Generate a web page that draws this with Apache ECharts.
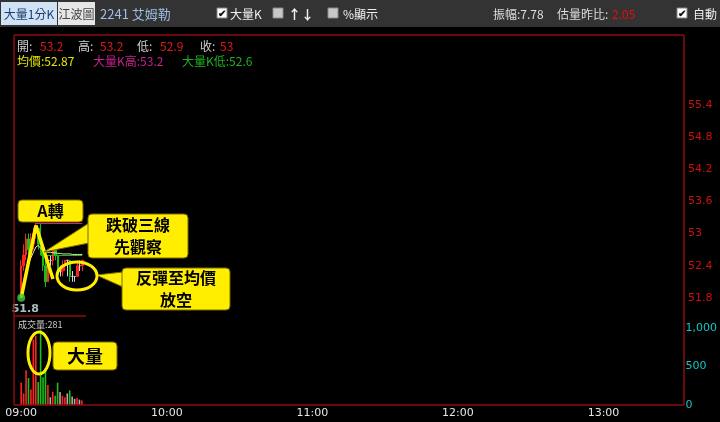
<!DOCTYPE html>
<html>
<head>
<meta charset="utf-8">
<script src="https://cdn.jsdelivr.net/npm/echarts@6/dist/echarts.min.js"></script>
<style>
html, body { margin: 0; padding: 0; background: #000; }
#chart { width: 720px; height: 422px; }
</style>
</head>
<body>
<div id="chart"></div>
<script>
// 時間軸 09:00 ~ 13:30（1 分 K）
var timeLabels = [];
for (var m = 9 * 60; m <= 13 * 60 + 30; m++) {
  var hh = Math.floor(m / 60), mm = m % 60;
  timeLabels.push((hh < 10 ? '0' : '') + hh + ':' + (mm < 10 ? '0' : '') + mm);
}
var hourLabels = ['09:00', '10:00', '11:00', '12:00', '13:00'];
var priceTicks = [51.8, 52.4, 53, 53.6, 54.2, 54.8, 55.4];
var volumeTicks = [0, 500, 1000];

// 09:00 起每分鐘 K 棒
var kOpen  = [51.8, 52.4, 52.6, 52.9, 52.7, 52.8, 53.0, 53.1, 52.9, 52.6, 52.4, 52.1, 52.5, 52.5, 52.7, 52.6, 52.3, 52.3, 52.4, 52.5, 52.5, 52.2, 52.2, 52.2, 52.4, 52.4];
var kClose = [52.4, 52.6, 52.9, 52.7, 52.9, 53.0, 53.1, 52.8, 52.6, 52.4, 52.1, 52.5, 52.5, 52.7, 52.6, 52.3, 52.3, 52.4, 52.5, 52.5, 52.2, 52.2, 52.2, 52.4, 52.4, 52.5];
var kLow   = [51.8, 52.3, 52.5, 52.6, 52.6, 52.7, 52.9, 52.7, 52.6, 52.3, 52.0, 52.1, 52.4, 52.4, 52.5, 52.2, 52.2, 52.2, 52.3, 52.2, 52.1, 52.1, 52.1, 52.2, 52.3, 52.3];
var kHigh  = [52.5, 52.8, 53.0, 53.0, 53.0, 53.1, 53.2, 53.1, 53.2, 52.7, 52.5, 52.6, 52.6, 52.7, 52.7, 52.6, 52.4, 52.5, 52.5, 52.5, 52.5, 52.3, 52.2, 52.5, 52.5, 52.5];
var volumes = [290, 150, 450, 350, 200, 850, 900, 300, 980, 360, 480, 260, 100, 170, 120, 290, 170, 120, 100, 150, 190, 110, 80, 90, 70, 60];
var avgPrice = [51.9, 52.1, 52.3, 52.45, 52.55, 52.65, 52.75, 52.78, 52.72, 52.68, 52.66, 52.65, 52.65, 52.64, 52.64, 52.63, 52.63, 52.62, 52.62, 52.62, 52.62, 52.61, 52.61, 52.61, 52.61, 52.61];

// 大量 K 高低
var bigKHigh = 53.2, bigKLow = 52.6;
var bigKTime = '09:06', lastTime = '09:25';

// 手繪 A 轉線
var aTurnPoints = [['09:00', 51.8], ['09:06', 53.15], ['09:13', 52.15]];

var UP = '#ff2424', DOWN = '#18c018', FLAT = '#d8d8d8';

var candleData = [], volData = [];
for (var i = 0; i < kOpen.length; i++) {
  var c = kClose[i] > kOpen[i] ? UP : (kClose[i] < kOpen[i] ? DOWN : FLAT);
  var item = { value: [kOpen[i], kClose[i], kLow[i], kHigh[i]] };
  if (c === FLAT) item.itemStyle = { color: FLAT, borderColor: FLAT };
  candleData.push(item);
  volData.push({ value: volumes[i], itemStyle: { color: c === FLAT ? '#b8a8a8' : c } });
}

var RED_LINE = '#8c0c0c';
var FONT = '"Noto Sans CJK TC", "Noto Sans", sans-serif';

function txt(x, y, s, color, size, extra) {
  var st = { text: s, fill: color, font: (size || 12) + 'px ' + FONT, textVerticalAlign: 'middle' };
  if (extra) for (var k in extra) st[k] = extra[k];
  return { type: 'text', left: x, top: y, z: 100, style: st, silent: true };
}
function tx(x, y, s, color, size, weight, align) {
  return { type: 'text', x: x, y: y, z: 100, silent: true,
    style: { text: s, fill: color, font: (weight || 'normal') + ' ' + (size || 12) + 'px ' + FONT,
      align: align || 'left', verticalAlign: 'middle', lineHeight: (size || 12) + 6 } };
}
function box(x, y, w, h) {
  return { type: 'rect', z: 90, silent: true, shape: { x: x, y: y, width: w, height: h, r: 4 },
    style: { fill: '#ffee00', stroke: '#7a6a00', lineWidth: 1 } };
}
function line(x1, y1, x2, y2) {
  return { type: 'line', z: 50, silent: true, shape: { x1: x1, y1: y1, x2: x2, y2: y2 },
    style: { stroke: RED_LINE, lineWidth: 1.5 } };
}
function checkbox(x, checked) {
  var g = [{ type: 'rect', z: 100, silent: true, shape: { x: x, y: 8, width: 10, height: 10 },
    style: { fill: checked ? '#ffffff' : '#c8c8c8', stroke: '#888', lineWidth: 1 } }];
  if (checked) g.push(tx(x + 5, 13.5, '✔', '#111', 10, 'bold', 'center'));
  return g;
}

var graphics = [
  // 工具列
  { type: 'rect', z: 80, silent: true, shape: { x: 0, y: 0, width: 720, height: 27 }, style: { fill: '#333333' } },
  { type: 'rect', z: 90, silent: true, shape: { x: 1, y: 2, width: 56, height: 23 }, style: { fill: '#cfe2f6' } },
  tx(29, 14, '大量1分K', '#1c3d6b', 12, 'normal', 'center'),
  { type: 'rect', z: 90, silent: true, shape: { x: 58, y: 2, width: 37, height: 23 }, style: { fill: '#e6e6e6' } },
  tx(76.5, 14, '江波圖', '#444', 12, 'normal', 'center'),
  tx(100, 14, '2241 艾姆勒', '#9dbfe6', 13),
  tx(230, 14, '大量K', '#f0f0f0', 12),
  tx(288, 14, '↑↓', '#f0f0f0', 13, 'bold'),
  tx(343, 14, '%顯示', '#f0f0f0', 12),
  tx(493, 14, '振幅:7.78', '#dddddd', 12),
  tx(557, 14, '估量昨比:', '#dddddd', 12),
  tx(612, 14, '2.05', '#e01010', 12),
  tx(693, 14, '自動', '#f0f0f0', 12),

  // 邊框
  line(14, 35, 684, 35), line(14, 35, 14, 405), line(684, 35, 684, 405),
  line(14, 405, 684, 405), line(14, 316, 86, 316),

  // 資訊列
  tx(17, 46, '開:', '#cfcfcf', 12), tx(40, 46, '53.2', '#e01818', 12),
  tx(78, 46, '高:', '#cfcfcf', 12), tx(100, 46, '53.2', '#e01818', 12),
  tx(137, 46, '低:', '#cfcfcf', 12), tx(160, 46, '52.9', '#e01818', 12),
  tx(200, 46, '收:', '#cfcfcf', 12), tx(220, 46, '53', '#e01818', 12),
  tx(17, 61, '均價:52.87', '#e6e600', 12),
  tx(93, 61, '大量K高:' + bigKHigh, '#c8208c', 12),
  tx(182, 61, '大量K低:' + bigKLow, '#20b020', 12),
  tx(18, 325, '成交量:281', '#cccccc', 9),

  // 註解
  box(18, 200, 65, 22), tx(50.5, 211, 'A轉', '#000', 16, 'bold', 'center'),
  { type: 'polygon', z: 89, silent: true, shape: { points: [[89, 223], [89, 243], [44, 252]] },
    style: { fill: '#ffee00', stroke: '#7a6a00', lineWidth: 1 } },
  box(88, 214, 100, 44), tx(138, 236, '跌破三線\n先觀察', '#000', 16, 'bold', 'center'),
  { type: 'polygon', z: 89, silent: true, shape: { points: [[123, 272], [123, 287], [96, 275]] },
    style: { fill: '#ffee00', stroke: '#7a6a00', lineWidth: 1 } },
  box(122, 268, 108, 42), tx(176, 289, '反彈至均價\n放空', '#000', 16, 'bold', 'center'),
  { type: 'ellipse', z: 95, silent: true, shape: { cx: 77, cy: 276, rx: 20, ry: 14 },
    style: { fill: 'none', stroke: '#ffee00', lineWidth: 3 } },
  box(53, 342, 64, 28), tx(85, 356, '大量', '#000', 18, 'bold', 'center'),
  { type: 'ellipse', z: 95, silent: true, shape: { cx: 39, cy: 353, rx: 11, ry: 21 },
    style: { fill: 'none', stroke: '#ffee00', lineWidth: 3 } }
];
graphics = graphics.concat(checkbox(217, true), checkbox(273, false), checkbox(328, false), checkbox(677, true));

var chart = echarts.init(document.getElementById('chart'));
chart.setOption({
  backgroundColor: '#000',
  animation: false,
  grid: [
    { left: 20, width: 662, top: 35, height: 281 },
    { left: 20, width: 662, top: 316, height: 89 }
  ],
  xAxis: [
    { type: 'category', gridIndex: 0, data: timeLabels, boundaryGap: true,
      axisLine: { show: false }, axisTick: { show: false }, axisLabel: { show: false } },
    { type: 'category', gridIndex: 1, data: timeLabels, boundaryGap: true,
      axisLine: { show: false }, axisTick: { show: false },
      axisLabel: { color: '#e6e6e6', fontSize: 11, fontFamily: 'DejaVu Sans', margin: 3,
        interval: function (idx, val) { return hourLabels.indexOf(val) >= 0; } } }
  ],
  yAxis: [
    { type: 'value', gridIndex: 0, position: 'right', min: 51.46, max: 56.71, scale: true,
      splitLine: { show: false }, axisLine: { show: false }, axisTick: { show: false },
      axisLabel: { customValues: priceTicks, color: '#cc1010', fontSize: 11, fontFamily: 'DejaVu Sans', margin: 6 } },
    { type: 'value', gridIndex: 1, position: 'right', min: 0, max: 1156,
      splitLine: { show: false }, axisLine: { show: false }, axisTick: { show: false },
      axisLabel: { customValues: volumeTicks, color: '#10c8c8', fontSize: 11, fontFamily: 'DejaVu Sans', margin: 8,
        formatter: function (v) { return v.toLocaleString('en-US'); } } }
  ],
  series: [
    { name: 'K', type: 'candlestick', xAxisIndex: 0, yAxisIndex: 0, data: candleData, barWidth: 2,
      itemStyle: { color: UP, color0: DOWN, borderColor: UP, borderColor0: DOWN, borderWidth: 1 },
      markLine: { symbol: 'none', silent: true, label: { show: false }, animation: false,
        data: [
          [{ coord: [bigKTime, bigKHigh], lineStyle: { color: '#c8208c', width: 1, type: 'solid' } }, { coord: [lastTime, bigKHigh] }],
          [{ coord: ['09:08', bigKLow], lineStyle: { color: '#20b020', width: 1, type: 'solid' } }, { coord: [lastTime, bigKLow] }]
        ] } },
    { name: '均價', type: 'line', xAxisIndex: 0, yAxisIndex: 0, data: avgPrice, showSymbol: false,
      lineStyle: { color: '#e8e4b0', width: 1 }, z: 3 },
    { name: 'A轉', type: 'line', xAxisIndex: 0, yAxisIndex: 0, data: aTurnPoints, showSymbol: false,
      lineStyle: { color: '#ffee00', width: 3.5 }, z: 10 },
    { name: '低點', type: 'scatter', xAxisIndex: 0, yAxisIndex: 0, data: [aTurnPoints[0]], symbolSize: 8,
      itemStyle: { color: '#40d040' }, z: 11,
      label: { show: true, position: 'bottom', distance: 2, offset: [4, 0], formatter: '51.8',
        color: '#d6eeee', fontWeight: 'bold', fontSize: 11, fontFamily: 'DejaVu Sans' } },
    { name: '成交量', type: 'bar', xAxisIndex: 1, yAxisIndex: 1, data: volData, barWidth: 1.6 }
  ],
  graphic: graphics
});
</script>
</body>
</html>
